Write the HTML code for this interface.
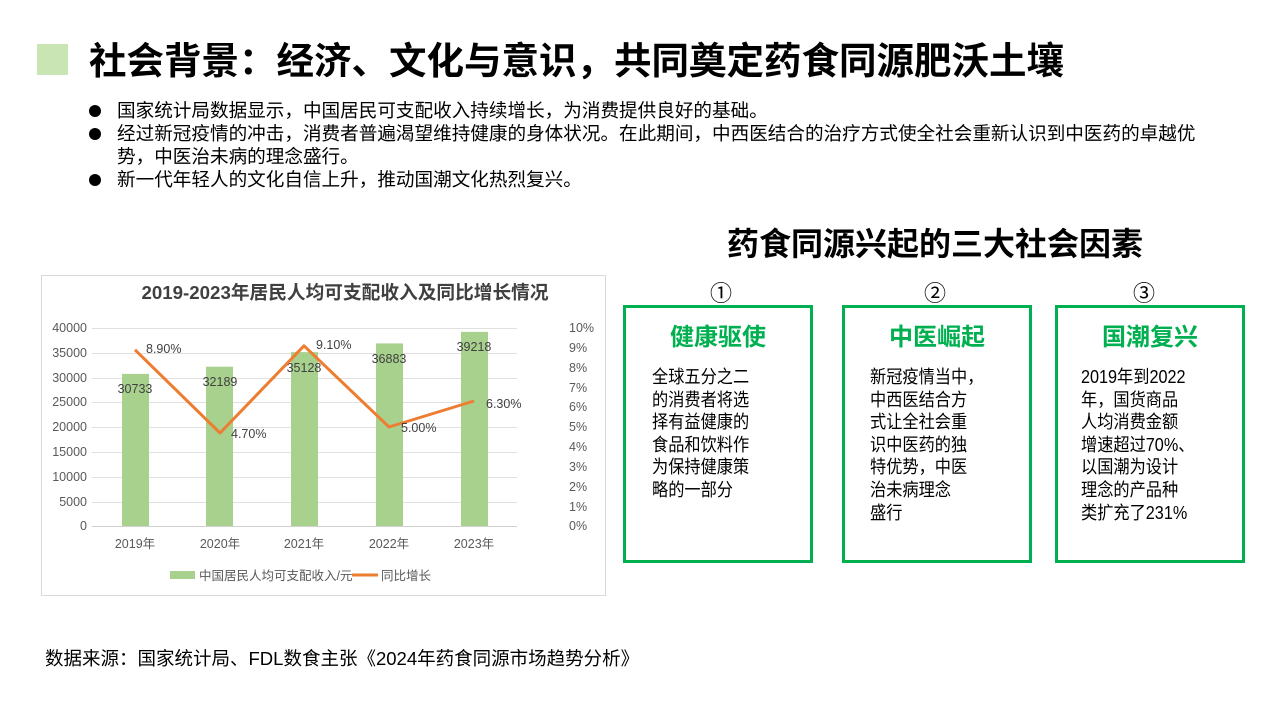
<!DOCTYPE html><html><head><meta charset="utf-8"><style>
body{margin:0;width:1280px;height:720px;background:#fff;position:relative;overflow:hidden;font-family:"Liberation Sans","Noto Sans CJK SC",sans-serif;color:#000}
.a{position:absolute;white-space:nowrap}
.box{position:absolute;top:305px;width:184px;height:252px;border:3px solid #00b050}
.bt{position:absolute;top:9px;left:0;right:0;text-align:center;font-size:24px;font-weight:bold;color:#00b050}
.bb{position:absolute;top:58px;font-size:18px;line-height:22.6px;color:#000;transform:scaleX(0.9);transform-origin:0 0}
.num{position:absolute;top:276px;font-size:22px;width:40px;text-align:center}
.dot{position:absolute;left:89px;width:12px;height:12px;border-radius:50%;background:#000}
</style></head><body>
<div class="a" style="left:37px;top:44px;width:31px;height:31px;background:#c9e5b4"></div>
<div class="a" style="left:89px;top:37px;font-size:37.5px;font-weight:bold;line-height:48px">社会背景：经济、文化与意识，共同奠定药食同源肥沃土壤</div>
<div class="a" style="left:117px;top:99px;font-size:18.6px;line-height:23px">
<div>国家统计局数据显示，中国居民可支配收入持续增长，为消费提供良好的基础。</div>
<div>经过新冠疫情的冲击，消费者普遍渴望维持健康的身体状况。在此期间，中西医结合的治疗方式使全社会重新认识到中医药的卓越优</div>
<div>势，中医治未病的理念盛行。</div>
<div>新一代年轻人的文化自信上升，推动国潮文化热烈复兴。</div>
</div>
<div class="dot" style="top:105px"></div>
<div class="dot" style="top:128px"></div>
<div class="dot" style="top:174px"></div>
<div class="a" style="left:727px;top:219px;font-size:32px;font-weight:bold">药食同源兴起的三大社会因素</div>

<svg class="a" style="left:0;top:0" width="640" height="620" font-family="Liberation Sans,Noto Sans CJK SC,sans-serif">
<rect x="41.5" y="275.5" width="564" height="320" fill="#fff" stroke="#d9d9d9"/>
<text x="345" y="299" font-size="18.7" font-weight="bold" fill="#404040" text-anchor="middle">2019-2023年居民人均可支配收入及同比增长情况</text>
<g stroke="#e0e0e0" stroke-width="1">
<line x1="92" x2="517" y1="328.5" y2="328.5"/><line x1="92" x2="517" y1="353.5" y2="353.5"/><line x1="92" x2="517" y1="378.5" y2="378.5"/><line x1="92" x2="517" y1="402.5" y2="402.5"/><line x1="92" x2="517" y1="427.5" y2="427.5"/><line x1="92" x2="517" y1="452.5" y2="452.5"/><line x1="92" x2="517" y1="477.5" y2="477.5"/><line x1="92" x2="517" y1="502.5" y2="502.5"/><line x1="92" x2="517" y1="526.5" y2="526.5" stroke="#d0d0d0"/>
</g>
<g fill="#a9d18e">
<rect x="122" y="373.9" width="27" height="152.1"/>
<rect x="206" y="366.7" width="27" height="159.3"/>
<rect x="291" y="352.1" width="27" height="173.9"/>
<rect x="376" y="343.4" width="27" height="182.6"/>
<rect x="461" y="331.9" width="27" height="194.1"/>
</g>
<g font-size="12.5" fill="#595959" text-anchor="end">
<text x="87" y="332">40000</text><text x="87" y="357">35000</text><text x="87" y="382">30000</text><text x="87" y="406">25000</text><text x="87" y="431">20000</text><text x="87" y="456">15000</text><text x="87" y="481">10000</text><text x="87" y="506">5000</text><text x="87" y="530">0</text>
</g>
<g font-size="12.5" fill="#595959">
<text x="569" y="332">10%</text><text x="569" y="352">9%</text><text x="569" y="372">8%</text><text x="569" y="392">7%</text><text x="569" y="411">6%</text><text x="569" y="431">5%</text><text x="569" y="451">4%</text><text x="569" y="471">3%</text><text x="569" y="491">2%</text><text x="569" y="511">1%</text><text x="569" y="530">0%</text>
</g>
<g font-size="12.5" fill="#595959" text-anchor="middle">
<text x="135" y="548">2019年</text><text x="220" y="548">2020年</text><text x="304" y="548">2021年</text><text x="389" y="548">2022年</text><text x="474" y="548">2023年</text>
</g>
<g font-size="12.5" fill="#404040" text-anchor="middle">
<text x="135" y="393">30733</text><text x="220" y="386">32189</text><text x="304" y="372">35128</text><text x="389" y="363">36883</text><text x="474" y="351">39218</text>
</g>
<polyline points="135,349.8 220,433 304,345.8 389,427 474,401" fill="none" stroke="#ed7d31" stroke-width="3" stroke-linejoin="round"/>
<g font-size="12.5" fill="#404040">
<text x="146" y="353">8.90%</text><text x="231" y="438">4.70%</text><text x="316" y="349">9.10%</text><text x="401" y="432">5.00%</text><text x="486" y="408">6.30%</text>
</g>
<rect x="170" y="571" width="25" height="8" fill="#a9d18e"/>
<text x="199" y="580" font-size="12.5" fill="#595959">中国居民人均可支配收入/元</text>
<line x1="352" x2="378" y1="575" y2="575" stroke="#ed7d31" stroke-width="3"/>
<text x="381" y="580" font-size="12.5" fill="#595959">同比增长</text>
</svg>

<div class="num" style="left:701px">①</div>
<div class="num" style="left:915px">②</div>
<div class="num" style="left:1124px">③</div>
<div class="box" style="left:623px"><div class="bt">健康驱使</div><div class="bb" style="left:26px">全球五分之二<br>的消费者将选<br>择有益健康的<br>食品和饮料作<br>为保持健康策<br>略的一部分</div></div>
<div class="box" style="left:842px"><div class="bt">中医崛起</div><div class="bb" style="left:25px">新冠疫情当中，<br>中西医结合方<br>式让全社会重<br>识中医药的独<br>特优势，中医<br>治未病理念<br>盛行</div></div>
<div class="box" style="left:1055px"><div class="bt">国潮复兴</div><div class="bb" style="left:23px">2019年到2022<br>年，国货商品<br>人均消费金额<br>增速超过70%、<br>以国潮为设计<br>理念的产品种<br>类扩充了231%</div></div>

<div class="a" style="left:45px;top:645px;font-size:18.5px">数据来源：国家统计局、FDL数食主张《2024年药食同源市场趋势分析》</div>
</body></html>
